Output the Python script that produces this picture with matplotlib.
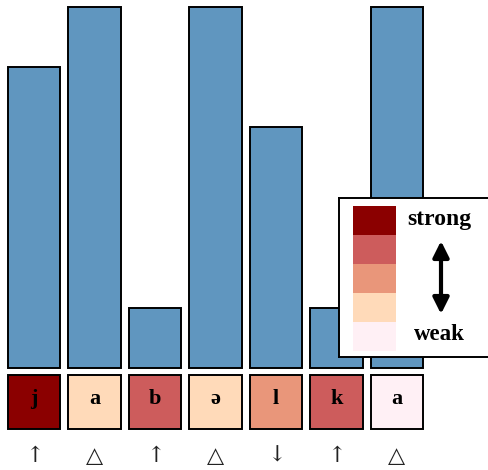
import matplotlib
matplotlib.use("Agg")
import matplotlib.pyplot as plt
from matplotlib.patches import Rectangle, FancyArrowPatch

# ---- data ----
letters = ['j', 'a', 'b', 'ə', 'l', 'k', 'a']
values = [5, 6, 1, 6, 4, 1, 6]
strength = [5, 2, 4, 2, 3, 4, 1]          # 1 = weak ... 5 = strong
marks = ['↑', '△', '↑', '△', '↓', '↑', '△']
scale_colors = ['#fff0f5', '#ffdab9', '#e9967a', '#cd5c5c', '#8b0000']  # weak -> strong
legend_labels = ['strong', 'weak']

W, H = 489, 470
BAR_COLOR = '#6096bf'
LW = 1.4
SERIF = ['Liberation Serif', 'DejaVu Serif']

def fpos(x0, y0, x1, y1):
    """pixel box (top-left origin) -> figure fraction rect"""
    return [x0 / W, 1 - y1 / H, (x1 - x0) / W, (y1 - y0) / H]

fig = plt.figure(figsize=(W / 100, H / 100), dpi=100)

pitch = 60.5
left_px = 34 - pitch / 2
right_px = left_px + 7 * pitch
xs = list(range(len(values)))
bw = 0.875

# main bars
ax = fig.add_axes(fpos(left_px, 7, right_px, 368))
bars = ax.bar(xs, values, width=bw, color=BAR_COLOR, edgecolor='black', linewidth=LW)
for b in bars:
    b.set_clip_on(False)
ax.set_xlim(-0.5, len(values) - 0.5)
ax.set_ylim(0, max(values))
ax.axis('off')

# letter boxes
ax2 = fig.add_axes(fpos(left_px, 375, right_px, 429))
box_colors = [scale_colors[s - 1] for s in strength]
boxes = ax2.bar(xs, [1] * len(xs), width=bw, color=box_colors, edgecolor='black', linewidth=LW)
for b in boxes:
    b.set_clip_on(False)
ax2.set_xlim(-0.5, len(values) - 0.5)
ax2.set_ylim(0, 1)
ax2.axis('off')
for x, l in zip(xs, letters):
    ax2.text(x, 0.56, l, ha='center', va='center', fontsize=16, fontweight='bold',
             family=SERIF, color='black')
for x, m in zip(xs, marks):
    ax2.text(x, -0.5, m, ha='center', va='center', fontsize=16,
             family=['DejaVu Serif'], color='#222222', clip_on=False)

# legend
axl = fig.add_axes(fpos(339, 198, 500, 357))
axl.set_xlim(0, 161)
axl.set_ylim(159, 0)
axl.set_xticks([])
axl.set_yticks([])
for s in axl.spines.values():
    s.set_linewidth(LW)
sw_top, sw_h = 8, 29
for i, c in enumerate(reversed(scale_colors)):
    axl.add_patch(Rectangle((14, sw_top + i * sw_h), 43, sw_h, facecolor=c, edgecolor='none'))
axl.text(100, 21, legend_labels[0], ha='center', va='center', fontsize=17,
         fontweight='bold', family=SERIF)
axl.text(100, 136, legend_labels[1], ha='center', va='center', fontsize=16.5,
         fontweight='bold', family=SERIF)
axl.add_patch(FancyArrowPatch((102, 43), (102, 116), arrowstyle='<|-|>',
                              mutation_scale=24, linewidth=3, color='black',
                              shrinkA=0, shrinkB=0))

fig.savefig('out.png', dpi=100)
